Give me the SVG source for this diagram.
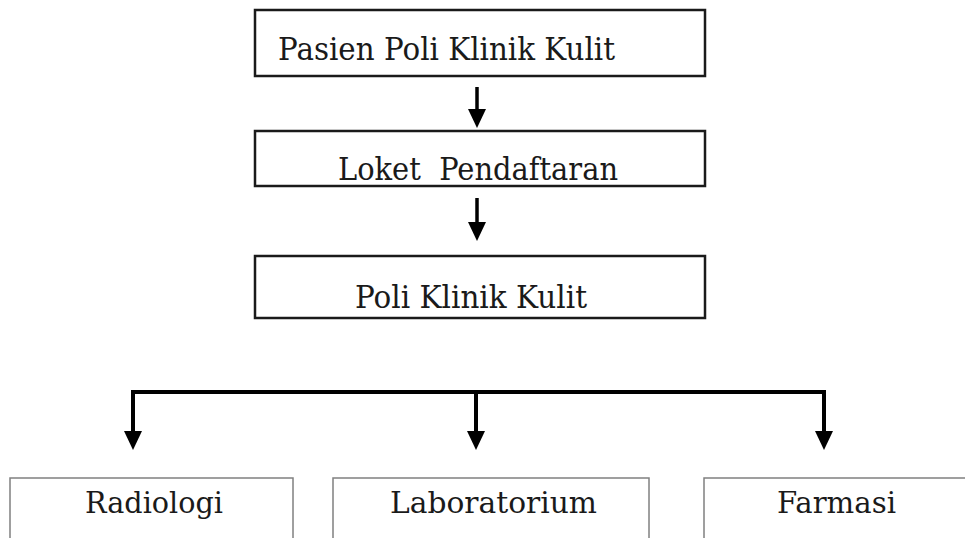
<svg xmlns="http://www.w3.org/2000/svg" width="965" height="538" viewBox="0 0 965 538">
<style>
.top{fill:#fff;stroke:#1a1a1a;stroke-width:2.5}
.bot{fill:#fff;stroke:#808080;stroke-width:1.5}
.t{font-family:"DejaVu Serif","Liberation Serif",serif;fill:#1a1a1a;white-space:pre}
.tt{font-size:32px}
.bt{font-size:29px}
.c{fill:none;stroke:#000;stroke-width:4}
.c3{fill:none;stroke:#000;stroke-width:3.5}
</style>
<defs>
<path id="ah" d="M-9,0 L9,0 L0,19 Z"/>
</defs>
<rect width="965" height="538" fill="#fff"/>
<g id="n1"><rect class="top" x="255" y="10" width="450" height="66"/><text class="t tt" x="278" y="60" textLength="337" lengthAdjust="spacingAndGlyphs">Pasien Poli Klinik Kulit</text></g>
<g id="n2"><rect class="top" x="255" y="131" width="450" height="55"/><text class="t tt" x="338" y="180" textLength="280" lengthAdjust="spacingAndGlyphs" xml:space="preserve">Loket  Pendaftaran</text></g>
<g id="n3"><rect class="top" x="255" y="256" width="450" height="62"/><text class="t tt" x="355" y="308" textLength="232" lengthAdjust="spacingAndGlyphs">Poli Klinik Kulit</text></g>
<g id="n4"><rect class="bot" x="10" y="478" width="283" height="70"/><text class="t bt" x="85" y="513" textLength="138" lengthAdjust="spacingAndGlyphs">Radiologi</text></g>
<g id="n5"><rect class="bot" x="333" y="478" width="316" height="70"/><text class="t bt" x="390" y="513" textLength="207" lengthAdjust="spacingAndGlyphs">Laboratorium</text></g>
<g id="n6"><rect class="bot" x="704" y="478" width="270" height="70"/><text class="t bt" x="777" y="513" textLength="119" lengthAdjust="spacingAndGlyphs">Farmasi</text></g>
<g id="connectors">
<path class="c3" d="M477,87 V112"/>
<use href="#ah" x="477" y="109"/>
<path class="c3" d="M477,198 V224"/>
<use href="#ah" x="477" y="222"/>
<path class="c" d="M133,433 V392 H824 V433 M476,392 V433"/>
<use href="#ah" x="133" y="431"/>
<use href="#ah" x="476" y="431"/>
<use href="#ah" x="824" y="431"/>
</g>
</svg>
